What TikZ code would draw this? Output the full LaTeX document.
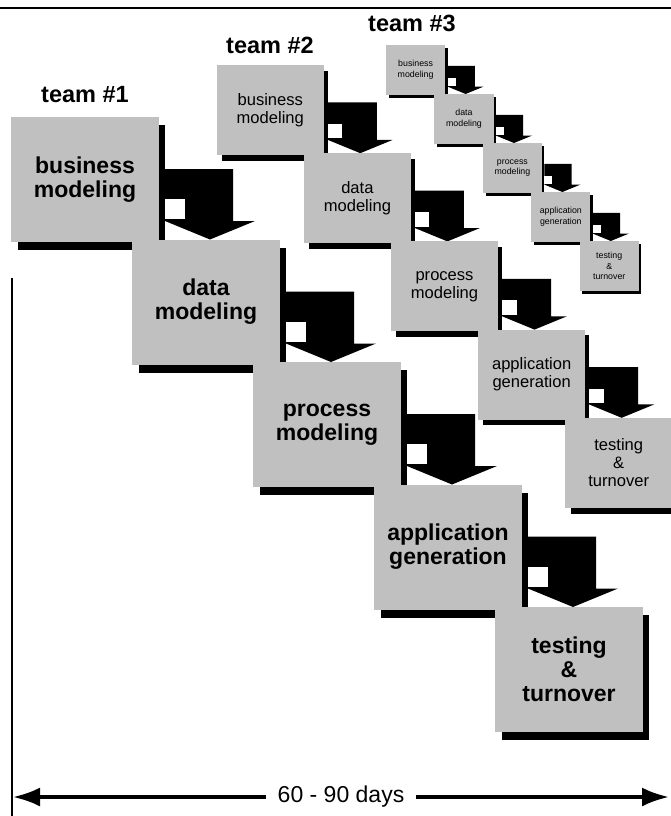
\documentclass[tikz,border=0pt]{standalone}
\usepackage{fontspec}
\setmainfont{Liberation Sans}
\usetikzlibrary{arrows.meta}

\definecolor{boxgray}{RGB}{192,192,192}
\tikzset{
  stage/.style={fill=boxgray, inner sep=0pt, outer sep=0pt, minimum width=148pt, minimum height=125pt, align=center, anchor=north west},
  shadowbar/.style={fill=black},
  bent/.style={fill=black},
  teamlabel/.style={font=\bfseries\fontsize{23.5}{26}\selectfont, inner sep=0pt, anchor=base},
}

\begin{document}
\begin{tikzpicture}[x=1pt,y=-1pt]
			\useasboundingbox (0,0) rectangle (671,816);
			\clip (0,0) rectangle (671,816);
			\draw[line width=1.5pt] (0,8) -- (671,8);
			
			\node[teamlabel] (team1) at (85,102) {team \#1};
			\node[teamlabel] (team2) at (270,53) {team \#2};
			\node[teamlabel] (team3) at (412,32) {team \#3};
			
			% team #1
			\begin{scope}[shift={(11,117)}, font=\bfseries\fontsize{23}{24}\selectfont]
			\foreach \i/\txt in {0/{business\\modeling},1/{data\\modeling},2/{process\\modeling},3/{application\\generation},4/{testing\\\&\\turnover}} {
				\fill[shadowbar] (121*\i+7,122.5*\i+8) rectangle ++(147,125);
				\node[stage] (a\i) at (121*\i,122.5*\i) {\txt};
				\ifnum\i<4
				\fill[bent] (a\i.north east) ++(6,52) -- ++(68,0) -- ++(0,52) -- ++(22,0) -- ++(-45,18.5) -- ++(-45,-18.5) -- cycle;
				\fill[white] (a\i.north east) ++(6,82) rectangle ++(20,20);
				\fi
			}
			\end{scope}
			
			% team #2
			\begin{scope}[shift={(217,65)}, scale=0.72, transform shape, font=\fontsize{23}{25}\selectfont]
			\foreach \i/\txt in {0/{business\\modeling},1/{data\\modeling},2/{process\\modeling},3/{application\\generation},4/{testing\\\&\\turnover}} {
				\fill[shadowbar] (121*\i+7,122.5*\i+8) rectangle ++(147,125);
				\node[stage] (b\i) at (121*\i,122.5*\i) {\txt};
				\ifnum\i<4
				\fill[bent] (b\i.north east) ++(6,52) -- ++(68,0) -- ++(0,52) -- ++(22,0) -- ++(-45,18.5) -- ++(-45,-18.5) -- cycle;
				\fill[white] (b\i.north east) ++(6,82) rectangle ++(20,20);
				\fi
			}
			\end{scope}
			
			% team #3
			\begin{scope}[shift={(386,45)}, scale=0.4, transform shape, font=\fontsize{22}{27}\selectfont]
			\foreach \i/\txt in {0/{business\\modeling},1/{data\\modeling},2/{process\\modeling},3/{application\\generation},4/{testing\\\&\\turnover}} {
				\fill[shadowbar] (121*\i+7,122.5*\i+8) rectangle ++(147,125);
				\node[stage] (c\i) at (121*\i,122.5*\i) {\txt};
				\ifnum\i<4
				\fill[bent] (c\i.north east) ++(6,52) -- ++(68,0) -- ++(0,52) -- ++(22,0) -- ++(-45,18.5) -- ++(-45,-18.5) -- cycle;
				\fill[white] (c\i.north east) ++(6,82) rectangle ++(20,20);
				\fi
			}
			\end{scope}
			
			% time span
			\draw[line width=1.5pt] (12,278) -- (12,816);
			\coordinate (start) at (13,797);
			\coordinate (stop) at (669,797);
			\draw[line width=3.5pt, {Latex[length=27pt,width=19pt]}-{Latex[length=27pt,width=19pt]}] (start) -- node[fill=white, inner xsep=12pt, font=\fontsize{23}{26}\selectfont] (span) {60 - 90 days} (stop);
			
\end{tikzpicture}
\end{document}
